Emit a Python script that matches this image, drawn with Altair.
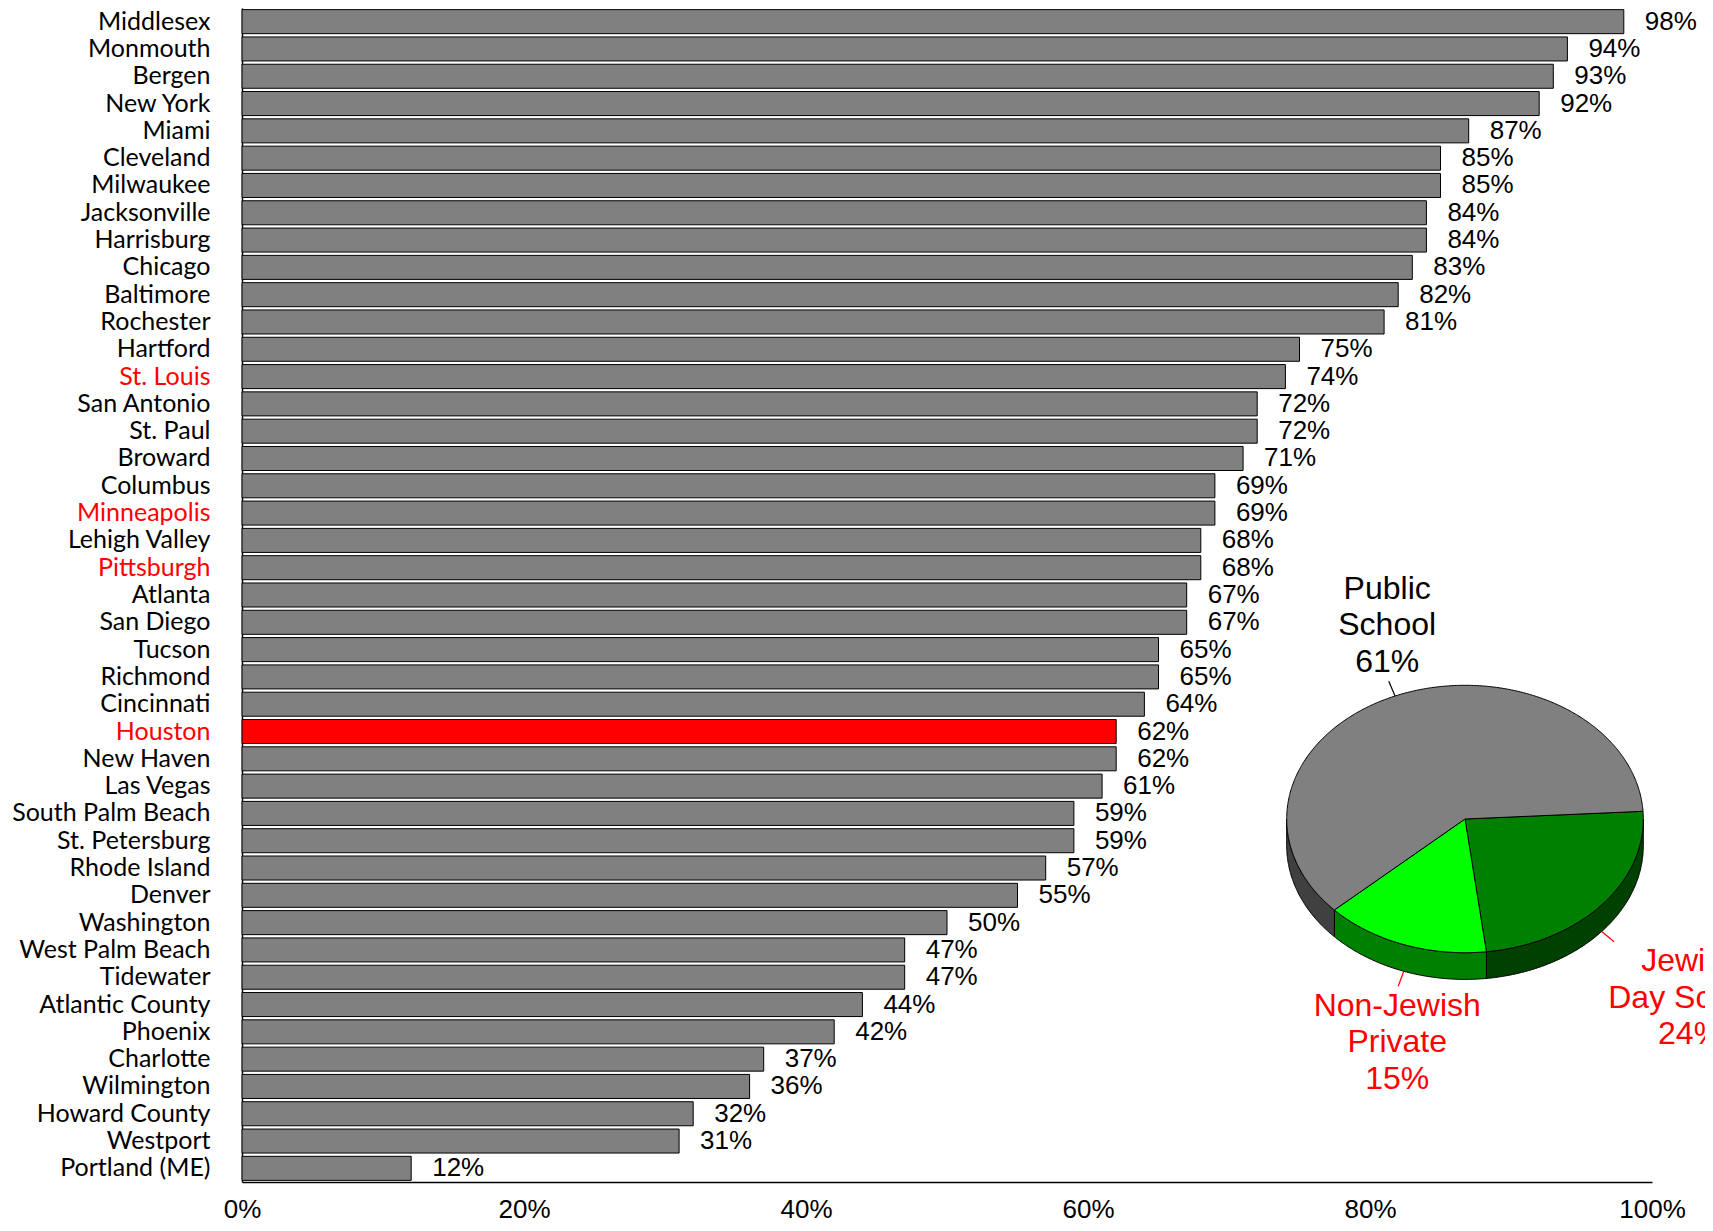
import math
import json
import altair as alt
import pandas as pd

# ---------------- data ----------------
cities = [
    "Middlesex", "Monmouth", "Bergen", "New York", "Miami", "Cleveland", "Milwaukee",
    "Jacksonville", "Harrisburg", "Chicago", "Baltimore", "Rochester", "Hartford",
    "St. Louis", "San Antonio", "St. Paul", "Broward", "Columbus", "Minneapolis",
    "Lehigh Valley", "Pittsburgh", "Atlanta", "San Diego", "Tucson", "Richmond",
    "Cincinnati", "Houston", "New Haven", "Las Vegas", "South Palm Beach",
    "St. Petersburg", "Rhode Island", "Denver", "Washington", "West Palm Beach",
    "Tidewater", "Atlantic County", "Phoenix", "Charlotte", "Wilmington",
    "Howard County", "Westport", "Portland (ME)",
]
values = [
    98, 94, 93, 92, 87, 85, 85, 84, 84, 83, 82, 81, 75, 74, 72, 72, 71, 69, 69,
    68, 68, 67, 67, 65, 65, 64, 62, 62, 61, 59, 59, 57, 55, 50, 47, 47, 44, 42,
    37, 36, 32, 31, 12,
]
red_labels = ["St. Louis", "Minneapolis", "Pittsburgh", "Houston"]
red_bars = ["Houston"]
x_ticks = [0, 0.2, 0.4, 0.6, 0.8, 1.0]

# pie (clockwise from the right-hand edge)
pie_names = [["Jewish", "Day School"], ["Non-Jewish", "Private"], ["Public", "School"]]
pie_shares = [24, 15, 61]
pie_top_colors = ["#008000", "#00FF00", "#808080"]
pie_side_colors = ["#004000", "#008000", "#404040"]
pie_text_colors = ["#FF0000", "#FF0000", "#000000"]

# ---------------- layout / style ----------------
W, H = 1410, 1174
CX, CY, RX, RY, DEPTH = 1223.0, 811.0, 178.3, 133.7, 26.7
START_ANGLE = 3.3
LEADER_LEN = 16.0
LABEL_OFFSETS = [(76.0, 56.0), (-1.0, 56.0), (-1.6, -56.0)]
LINE_H = 36.7
SANS = "Liberation Sans"

df = pd.DataFrame({"city": cities, "pct": values})
df["share"] = df["pct"] / 100.0
df["label"] = df["pct"].astype(str) + "%"


# ---------------- pie geometry from shares ----------------
def pt(a_deg, dz=0.0):
    a = math.radians(a_deg)
    return [CX + RX * math.cos(a), CY - RY * math.sin(a) + dz]


def arc(a0, a1, dz=0.0):
    n = max(2, int(abs(a1 - a0) * 2) + 1)
    return [pt(a0 + (a1 - a0) * i / (n - 1), dz) for i in range(n)]


tops, sides, leaders, pie_text_rows = [], [], [], []
a0 = START_ANGLE
for i, share in enumerate(pie_shares):
    a1 = a0 - share * 3.6
    ring = [[CX, CY]] + arc(a0, a1) + [[CX, CY]]
    tops.append({"type": "Feature", "properties": {"fill": pie_top_colors[i]},
                 "geometry": {"type": "Polygon", "coordinates": [ring]}})
    for shift in (0.0, 360.0, -360.0):
        hi = min(a0 + shift, 0.0)
        lo = max(a1 + shift, -180.0)
        if hi > lo:
            sring = arc(hi, lo) + arc(lo, hi, DEPTH)
            sring.append(sring[0])
            sides.append({"type": "Feature", "properties": {"fill": pie_side_colors[i]},
                          "geometry": {"type": "Polygon", "coordinates": [sring]}})
    mid = (a0 + a1) / 2.0
    m = math.radians(mid)
    front = math.sin(m) < 0
    start = pt(mid, DEPTH if front else 0.0)
    end = [start[0] + LEADER_LEN * math.cos(m), start[1] - LEADER_LEN * math.sin(m)]
    leaders.append({"type": "Feature", "properties": {"color": pie_text_colors[i]},
                    "geometry": {"type": "LineString", "coordinates": [start, end]}})
    lines = pie_names[i] + [str(share) + "%"]
    bx = end[0] + LABEL_OFFSETS[i][0]
    by = end[1] + LABEL_OFFSETS[i][1]
    for k, line in enumerate(lines):
        pie_text_rows.append({"text": line, "lon": bx,
                              "lat": by + (k - (len(lines) - 1) / 2.0) * LINE_H,
                              "color": pie_text_colors[i]})
    a0 = a1

proj = dict(type="identity", scale=1, translate=[0, 0])

# ---------------- bar chart ----------------
red_test = "indexof(" + json.dumps(red_labels) + ", datum.value) >= 0"
y_axis = alt.Axis(
    title=None, labelFont="Lato", labelFontSize=25,
    labelColor={"condition": {"test": red_test, "value": "#FF0000"}, "value": "#000000"},
    ticks=False, tickSize=0, labelPadding=32, domainColor="#000000", domainWidth=1.5,
    labelLimit=400, grid=False,
)
x_axis = alt.Axis(
    title=None, values=x_ticks, format=".0%", labelFont=SANS, labelFontSize=26,
    labelColor="#000000", ticks=False, tickSize=0, labelPadding=14,
    domainColor="#000000", domainWidth=1.5, grid=False, labelFlush=False,
)

base = alt.Chart(df)
bars = base.mark_bar(stroke="#000000", strokeWidth=1).encode(
    y=alt.Y("city:N", sort=None, axis=y_axis,
            scale=alt.Scale(paddingInner=0.12, paddingOuter=0.06)),
    x=alt.X("share:Q", axis=x_axis, scale=alt.Scale(domain=[0, 1], nice=False)),
    color=alt.condition(alt.FieldOneOfPredicate(field="city", oneOf=red_bars),
                        alt.value("#FF0000"), alt.value("#808080")),
)
bar_text = base.mark_text(align="left", baseline="middle", dx=21, dy=0,
                          font=SANS, fontSize=26, color="#000000").encode(
    y=alt.Y("city:N", sort=None),
    x=alt.X("share:Q"),
    text="label:N",
)

pie_side_layer = alt.Chart(alt.Data(values=sides)).mark_geoshape(
    stroke="#000000", strokeWidth=1, clip=False).encode(
    fill=alt.Fill("properties.fill:N", scale=None)).project(**proj)
pie_top_layer = alt.Chart(alt.Data(values=tops)).mark_geoshape(
    stroke="#000000", strokeWidth=1, clip=False).encode(
    fill=alt.Fill("properties.fill:N", scale=None)).project(**proj)
leader_layer = alt.Chart(alt.Data(values=leaders)).mark_geoshape(
    filled=False, strokeWidth=1.2, clip=False).encode(
    stroke=alt.Stroke("properties.color:N", scale=None)).project(**proj)
pie_label_layer = alt.Chart(pd.DataFrame(pie_text_rows)).mark_text(
    font=SANS, fontSize=32, align="center", baseline="middle", clip=False).encode(
    longitude="lon:Q", latitude="lat:Q", text="text:N",
    color=alt.Color("color:N", scale=None)).project(**proj)

chart = alt.layer(
    bars, bar_text, pie_side_layer, pie_top_layer, leader_layer, pie_label_layer
).properties(
    width=W, height=H,
    autosize=alt.AutoSizeParams(type="none"),
    padding={"left": 234, "top": 0, "right": 53, "bottom": 41},
    background="white",
).configure_view(stroke=None)

chart.save("out.html", embed_options={"renderer": "svg", "actions": False})
